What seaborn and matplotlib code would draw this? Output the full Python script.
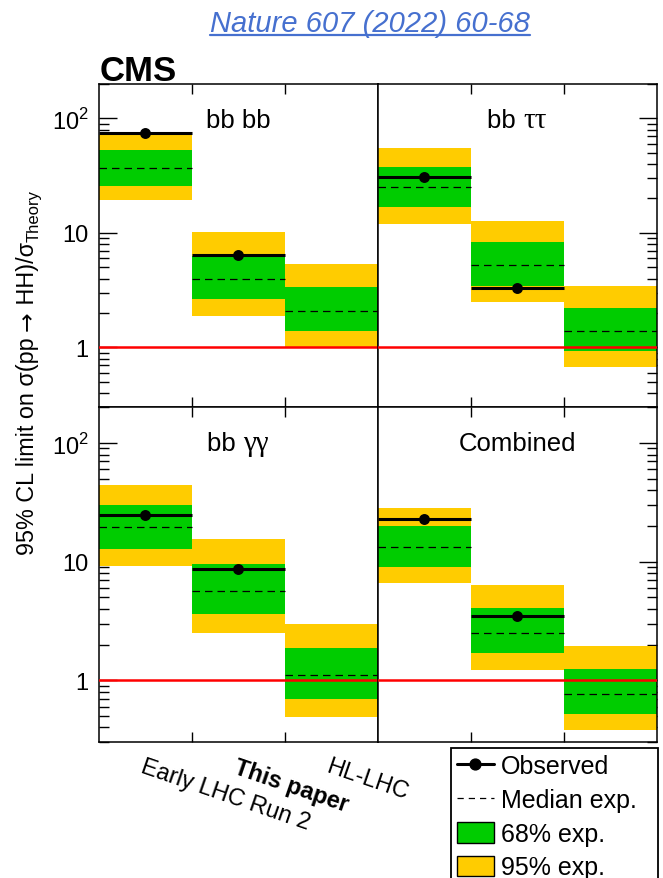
import numpy as np
import matplotlib
matplotlib.use("Agg")
import matplotlib.pyplot as plt
from matplotlib.lines import Line2D
from matplotlib.patches import Patch
from matplotlib.ticker import NullFormatter, FixedLocator, LogLocator, NullLocator
from matplotlib.offsetbox import TextArea, HPacker, AnchoredOffsetbox
import seaborn as sns

# ---------------- data ----------------
categories = ["Early LHC Run 2", "This paper", "HL-LHC"]
channel_latin = ["bb bb", "bb ", "bb ", "Combined"]
channel_greek = ["", "ττ", "γγ", ""]

obs_bbbb = [74.0, 6.4, np.nan]
obs_bbtt = [31.0, 3.3, np.nan]
obs_bbgg = [24.5, 8.6, np.nan]
obs_comb = [23.0, 3.45, np.nan]

med_bbbb = [36.7, 3.96, 2.08]
med_bbtt = [25.0, 5.2, 1.39]
med_bbgg = [19.5, 5.65, 1.11]
med_comb = [13.3, 2.5, 0.77]

lo68_bbbb = [25.8, 2.63, 1.38]
hi68_bbbb = [53.0, 6.3, 3.39]
lo68_bbtt = [16.7, 3.46, 0.93]
hi68_bbtt = [38.0, 8.3, 2.21]
lo68_bbgg = [12.8, 3.6, 0.70]
hi68_bbgg = [30.0, 9.5, 1.86]
lo68_comb = [9.0, 1.69, 0.52]
hi68_comb = [19.8, 4.06, 1.24]

lo95_bbbb = [19.5, 1.89, 1.0]
hi95_bbbb = [71.8, 10.2, 5.37]
lo95_bbtt = [12.0, 2.5, 0.67]
hi95_bbtt = [54.8, 12.8, 3.44]
lo95_bbgg = [9.2, 2.5, 0.49]
hi95_bbgg = [44.0, 15.5, 3.0]
lo95_comb = [6.6, 1.21, 0.38]
hi95_comb = [28.3, 6.3, 1.93]

yticks = [1, 10, 100]
ytick_labels = ["1", "10", r"10$^{\mathregular{2}}$"]
legend_labels = ["Observed", "Median exp.", "68% exp.", "95% exp."]

panels = [
    (obs_bbbb, med_bbbb, lo68_bbbb, hi68_bbbb, lo95_bbbb, hi95_bbbb),
    (obs_bbtt, med_bbtt, lo68_bbtt, hi68_bbtt, lo95_bbtt, hi95_bbtt),
    (obs_bbgg, med_bbgg, lo68_bbgg, hi68_bbgg, lo95_bbgg, hi95_bbgg),
    (obs_comb, med_comb, lo68_comb, hi68_comb, lo95_comb, hi95_comb),
]

GREEN = "#00CC00"
YELLOW = "#FFCC00"
RED = "#FF0000"
BLUE = "#4670CF"

# ---------------- style ----------------
sns.set_style("ticks")
SANS = ["Liberation Sans", "DejaVu Sans"]
plt.rcParams["font.family"] = SANS
plt.rcParams["text.color"] = "black"
plt.rcParams["xtick.color"] = "black"
plt.rcParams["ytick.color"] = "black"
plt.rcParams["axes.edgecolor"] = "black"

W, H = 663, 879
fig = plt.figure(figsize=(W / 100, H / 100), dpi=100)
renderer = fig.canvas.get_renderer()

def px_axes(x0, y0, x1, y1):
    return fig.add_axes([x0 / W, 1 - y1 / H, (x1 - x0) / W, (y1 - y0) / H])

positions = [
    (98.5, 85, 377.5, 408.3),
    (377.5, 85, 656.5, 408.3),
    (98.5, 408.3, 377.5, 743.3),
    (377.5, 408.3, 656.5, 743.3),
]
label_y = [0.89, 0.89, 0.893, 0.893]

x = np.arange(len(categories))
for i, (pos, pan) in enumerate(zip(positions, panels)):
    obs, med, lo68, hi68, lo95, hi95 = [np.array(a, dtype=float) for a in pan]
    ax = px_axes(*pos)
    ax.set_yscale("log")
    ax.bar(x, hi95 - lo95, bottom=lo95, width=1.0, color=YELLOW, linewidth=0, zorder=1)
    ax.bar(x, hi68 - lo68, bottom=lo68, width=1.0, color=GREEN, linewidth=0, zorder=2)
    ax.hlines(med, x - 0.5, x + 0.5, colors="black", linestyles=(0, (6, 4)), lw=0.9, zorder=3)
    ax.axhline(1.0, color=RED, lw=1.8, zorder=4)
    m = ~np.isnan(obs)
    ax.hlines(obs[m], x[m] - 0.5, x[m] + 0.5, colors="black", lw=2.2, zorder=5)
    sns.scatterplot(x=x[m], y=obs[m], ax=ax, color="black", s=62, linewidth=0,
                    zorder=6, legend=False)
    ax.set_xlim(-0.5, 2.5)
    ax.set_ylim(0.3, 200)
    ax.set_xlabel("")
    ax.set_ylabel("")

    for sp in ax.spines.values():
        sp.set_linewidth(1.1)
        sp.set_color("black")
        sp.set_visible(True)

    # x ticks at bin edges
    ax.set_xticks([0.5, 1.5])
    ax.set_xticklabels([])
    ax.tick_params(axis="x", which="major", direction="in", top=True, bottom=True,
                   length=7, width=1)
    if i == 2:
        ax.set_xticks(x, minor=True)
        ax.set_xticklabels(categories, minor=True)
        ax.tick_params(axis="x", which="minor", length=0, pad=9, labelsize=17)
        for j, t in enumerate(ax.get_xticklabels(minor=True)):
            t.set_rotation(-19)
            t.set_ha("left")
            t.set_rotation_mode("anchor")
            if j == 1:
                t.set_fontweight("bold")
    else:
        ax.xaxis.set_minor_locator(NullLocator())

    # y ticks
    ax.yaxis.set_major_locator(FixedLocator(yticks))
    ax.yaxis.set_minor_locator(LogLocator(base=10, subs=np.arange(2, 10) * 1.0, numticks=20))
    ax.yaxis.set_minor_formatter(NullFormatter())
    if i in (0, 2):
        ax.set_yticks(yticks, labels=ytick_labels)
        ax.tick_params(axis="y", which="both", direction="in", left=True, right=False,
                       labelleft=True, labelright=False)
    else:
        ax.set_yticklabels([])
        ax.tick_params(axis="y", which="both", direction="in", left=False, right=True,
                       labelleft=False, labelright=False)
    ax.tick_params(axis="y", which="major", length=13, width=1, labelsize=17, pad=7)
    ax.tick_params(axis="y", which="minor", length=7, width=1)

    # panel label (latin part in sans, greek part in serif)
    children = [TextArea(channel_latin[i], textprops=dict(fontsize=18.5, family=SANS))]
    if channel_greek[i]:
        children.append(TextArea(channel_greek[i],
                                 textprops=dict(fontsize=21, family=["Liberation Serif", "DejaVu Serif"])))
    box = HPacker(children=children, align="baseline", pad=0, sep=0)
    anch = AnchoredOffsetbox(loc="center", child=box, pad=0, borderpad=0, frameon=False,
                             bbox_to_anchor=(0.5, label_y[i]), bbox_transform=ax.transAxes)
    anch.set_zorder(10)
    ax.add_artist(anch)

# y label, built from rotated pieces stacked upward
ylabel_pieces = [
    ("95% CL limit on σ(pp ", dict(fontsize=16.8, family=SANS), 0),
    ("→", dict(fontsize=16.8, family=["DejaVu Sans"]), 0),
    (" HH)/σ", dict(fontsize=16.8, family=SANS), 0),
    ("Theory", dict(fontsize=12, family=SANS), 5),
]
ybase_x = 34
ycur = 555
for txt, props, dx in ylabel_pieces:
    t = fig.text((ybase_x + dx) / W, 1 - ycur / H, txt, rotation=90, ha="left",
                 va="baseline", rotation_mode="anchor", **props)
    bbx = t.get_window_extent(renderer)
    ycur -= bbx.height

# CMS
fig.text(100 / W, 1 - 81 / H, "CMS", fontsize=25, fontweight="bold", ha="left", va="baseline")

# Title with underline
title = fig.text(370 / W, 1 - 32 / H, "Nature 607 (2022) 60-68", ha="center", va="baseline",
                 fontsize=21, style="italic", color=BLUE)
bb = title.get_window_extent(renderer)
fig.add_artist(Line2D([bb.x0 / W, bb.x1 / W], [1 - 35.5 / H] * 2, transform=fig.transFigure,
                      color=BLUE, lw=1.6))

# legend
handles = [
    Line2D([], [], color="black", lw=2.2, marker="o", markersize=7.8),
    Line2D([], [], color="black", lw=0.9, ls=(0, (5, 4))),
    Patch(facecolor=GREEN, edgecolor="black", lw=1),
    Patch(facecolor=YELLOW, edgecolor="black", lw=1),
]
leg = fig.legend(handles, legend_labels, loc="upper left", mode="expand",
                 bbox_to_anchor=(451 / W, 0, 207 / W, 1 - 749 / H), bbox_transform=fig.transFigure,
                 fontsize=18, frameon=True, fancybox=False, edgecolor="black", framealpha=1,
                 borderpad=0.25, handlelength=1.45, handleheight=0.9, handletextpad=0.3,
                 labelspacing=0.39, borderaxespad=0, numpoints=1)
leg.get_frame().set_linewidth(1.3)

fig.savefig("out.png", dpi=100)
